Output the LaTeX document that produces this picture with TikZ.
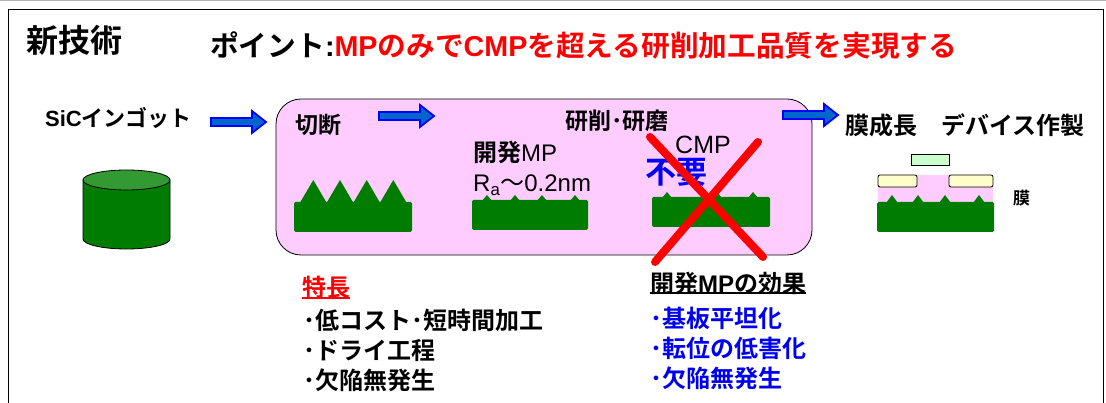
\documentclass[tikz,border=0pt]{standalone}
\usepackage{fontspec}
\setmainfont{Noto Sans CJK JP}[BoldFont={Noto Sans CJK JP Bold}]
\newfontfamily\lat{Liberation Sans}
\usetikzlibrary{arrows.meta}

\definecolor{sicgreen}{RGB}{0,125,0}
\definecolor{sictop}{RGB}{51,153,51}
\definecolor{pinkfill}{RGB}{255,204,255}
\definecolor{padyellow}{RGB}{255,255,204}
\definecolor{gategreen}{RGB}{204,255,204}
\definecolor{arrowfill}{RGB}{0,102,204}
\definecolor{xred}{RGB}{255,0,0}
\definecolor{listblue}{RGB}{0,0,240}

\begin{document}
\begin{tikzpicture}[x=1pt, y=1pt,
	lbl/.style={anchor=west, inner sep=0pt, font=\bfseries\fontsize{23}{30}\selectfont},
	thin lbl/.style={anchor=west, inner sep=0pt, font=\fontsize{24}{30}\selectfont},
	flowarrow/.style={fill=arrowfill, draw=blue, line width=1.8pt, line join=miter},
	sic/.style={fill=sicgreen},
	pad/.style={fill=padyellow, draw=black, line width=0.8pt, rounded corners=2},
	xmark/.style={draw=xred, line width=8pt, line cap=round}
]

	\useasboundingbox (0,0) rectangle (1106,403);

	% frame
	\draw[gray!60, line width=1pt] (0,402.5) -- (1106,402.5);
	\draw[line width=1pt] (8,-5) -- (8,393) -- (1103,393) -- (1103,-5);

	% headline
	\node[anchor=center, inner sep=0pt, font=\bfseries\fontsize{32}{38}\selectfont] (title) at (75,363) {新技術};
	\node[lbl, font=\bfseries\fontsize{28.7}{34}\selectfont] (point) at (210,358) {ポイント{\lat :}\textcolor{xred}{{\lat MP}のみで{\lat CMP}を超える研削加工品質を実現する}};

	% ingot
	\def\cylx{126.5}
	\def\cylrx{43.5}
	\def\cylry{10}
	\def\cyltop{223}
	\def\cylbot{164}

	\node[lbl, font=\bfseries\fontsize{22}{28}\selectfont] (ingot) at (45,285) {{\lat SiC}インゴット};
	\filldraw[fill=sicgreen, draw=black, line width=0.8pt] (\cylx-\cylrx,\cyltop) -- (\cylx-\cylrx,\cylbot) arc[start angle=180, end angle=360, x radius=\cylrx, y radius=\cylry] -- (\cylx+\cylrx,\cyltop) -- cycle;
	\filldraw[fill=sictop, draw=black, line width=0.8pt] (\cylx,\cyltop) ellipse[x radius=\cylrx, y radius=\cylry];

	% process box
	\draw[fill=pinkfill, line width=0.8pt, rounded corners=25] (276,148) rectangle (812,304);

	\foreach \ax/\ay in {211/281, 379/287, 783/288} {
		\draw[flowarrow] (\ax,\ay-4) -- ++(41,0) -- ++(0,-7) -- ++(14,11) -- ++(-14,11) -- ++(0,-7) -- ++(-41,0) -- cycle;
	}

	% cutting
	\node[lbl] (cut) at (295,278) {切断};
	\fill[sic, rounded corners=1.5] (294,171) rectangle (412,201);
	\foreach \px in {313.3, 340, 366.7, 393.3} {
		\fill[sic] (\px-13.5,200) -- (\px,223) -- (\px+13.5,200) -- cycle;
	}

	% grinding with MP
	\node[lbl] (grind) at (565,282) {研削･研磨};
	\node[thin lbl] (mp) at (473,251) {\textbf{開発}{\lat MP}};
	\node[thin lbl] (ra) at (473,218) {{\lat R\textsubscript{a}}～{\lat 0.2nm}};
	\fill[sic, rounded corners=1.5] (472,173) rectangle (588,203);
	\foreach \px in {487, 515, 542, 575} {
		\fill[sic] (\px-5,202) -- (\px,208) -- (\px+5,202) -- cycle;
	}

	% CMP, no longer needed
	\node[thin lbl, font=\fontsize{25}{30}\selectfont] (cmp) at (675,258) {\lat CMP};
	\fill[sic, rounded corners=1.5] (652,176) rectangle (770,206);
	\foreach \px in {667, 717, 753} {
		\fill[sic] (\px-5,205) -- (\px,211) -- (\px+5,205) -- cycle;
	}
	\node[lbl, text=blue, font=\bfseries\fontsize{31}{36}\selectfont] (fuyou) at (645,231) {不要};
	\draw[xmark] (650,266) -- (763,146);
	\draw[xmark] (758,261) -- (655,141);

	% film growth and device
	\node[lbl, font=\bfseries\fontsize{24}{30}\selectfont] (growth) at (845,278) {膜成長　デバイス作製};
	\fill[pinkfill] (878,201) rectangle (993,228);
	\fill[sic, rounded corners=1.5] (877,171) rectangle (994,201);
	\foreach \px in {892, 918, 945, 979} {
		\fill[sic] (\px-6,200) -- (\px,208) -- (\px+6,200) -- cycle;
	}
	\draw[pad] (878,228) -- (917,228) -- (917,216) -- (878,216) -- cycle;
	\draw[pad] (949,228) -- (993,228) -- (993,216) -- (949,216) -- cycle;
	\draw[fill=gategreen, line width=0.8pt] (911,238) rectangle (949,249);
	\node[lbl, font=\bfseries\fontsize{17}{20}\selectfont] (maku) at (1013,205) {膜};

	% features
	\node[lbl, text=xred, font=\bfseries\fontsize{24}{30}\selectfont] (tokucho) at (302,116) {特長};
	\draw[xred, line width=1.2pt] (tokucho.west |- 0,105) -- (tokucho.east |- 0,105);
	\node[lbl, align=left, font=\bfseries\fontsize{24}{30}\selectfont] (merits) at (303,53) {･低コスト･短時間加工\\･ドライ工程\\･欠陥無発生};

	% effects
	\node[lbl, font=\bfseries\fontsize{24}{30}\selectfont] (kouka) at (650,120) {開発{\lat MP}の効果};
	\draw[black, line width=1.2pt] (kouka.west |- 0,110) -- (kouka.east |- 0,110);
	\node[lbl, align=left, text=listblue, font=\bfseries\fontsize{24}{30}\selectfont] (effects) at (650,55) {･基板平坦化\\･転位の低害化\\･欠陥無発生};

\end{tikzpicture}
\end{document}
